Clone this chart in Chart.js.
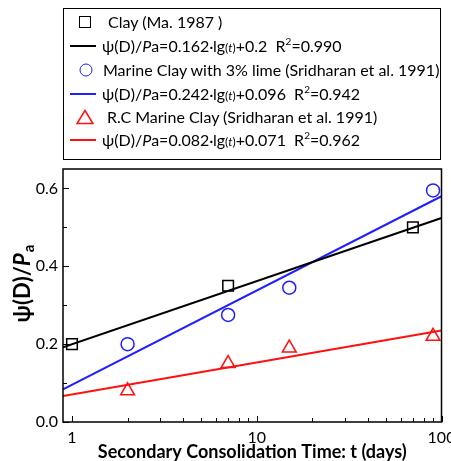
<!DOCTYPE html>
<html>
<head>
<meta charset="utf-8">
<script src="https://cdn.jsdelivr.net/npm/chart.js@4"></script>
<style>
  html, body { margin: 0; padding: 0; background: #fff; }
  #wrap { position: relative; width: 451px; height: 461px; }
  #legend {
    position: absolute; left: 63px; top: 8px; width: 376px; height: 150px;
    border: 1.5px solid #000; font-family: Lato, "Liberation Sans", sans-serif;
    font-size: 16px; color: #000;
  }
  .row { position: absolute; left: 0; height: 20px; line-height: 20px; white-space: nowrap; }
  .sym { position: absolute; top: 50%; transform: translate(-50%, -50%); }
  .txt { position: absolute; top: 0; }
  .ln { position: absolute; top: 9px; height: 2px; width: 26px; left: 6px; }
  .small { font-size: 12px; }
  sup { font-size: 10px; vertical-align: 7px; line-height: 0; }
</style>
</head>
<body>
<div id="wrap">
  <canvas id="myChart" width="451" height="461"></canvas>
  <div id="legend"></div>
</div>
<script>
// data
const clayT = [1, 7, 70];
const clayY = [0.2, 0.35, 0.5];
const limeT = [2, 7, 15, 90];
const limeY = [0.2, 0.275, 0.345, 0.595];
const rcT = [2, 7, 15, 90];
const rcY = [0.08, 0.15, 0.19, 0.22];

// fitted lines, end points across the axis
const fitT = [0.894, 100];
const clayFit = [0.192, 0.524];
const limeFit = [0.084, 0.58];
const rcFit = [0.067, 0.235];

const xTicks = [1, 2, 3, 4, 5, 6, 7, 8, 9, 10, 20, 30, 40, 50, 60, 70, 80, 90, 100];
const xLabels = [1, 10, 100];
const yTicks = [0, 0.1, 0.2, 0.3, 0.4, 0.5, 0.6];
const yLabels = ['0.0', '0.2', '0.4', '0.6'];

const BLUE = '#1f1fff';
const RED = '#ff1010';

const pts = (xs, ys) => xs.map((x, i) => ({ x: x, y: ys[i] }));

const frame = {
  id: 'frame',
  afterDraw(chart) {
    const { ctx, chartArea: a, scales: { x, y } } = chart;
    ctx.save();
    ctx.strokeStyle = '#000';
    ctx.lineWidth = 1;
    x.ticks.forEach(t => {
      const px = Math.round(x.getPixelForValue(t.value)) + 0.5;
      const len = xLabels.includes(t.value) ? 6 : 4;
      ctx.beginPath(); ctx.moveTo(px, a.bottom); ctx.lineTo(px, a.bottom - len); ctx.stroke();
    });
    y.ticks.forEach((t, i) => {
      const py = Math.round(y.getPixelForValue(t.value)) + 0.5;
      const len = i % 2 === 0 ? 6 : 4;
      ctx.beginPath(); ctx.moveTo(a.left, py); ctx.lineTo(a.left + len, py); ctx.stroke();
    });
    ctx.lineWidth = 1.5;
    ctx.strokeRect(a.left, a.top, a.right - a.left, a.bottom - a.top);

    // y title: ψ(D)/Pa with italic P and subscript a
    ctx.translate(23, 284);
    ctx.rotate(-Math.PI / 2);
    ctx.fillStyle = '#000';
    ctx.textBaseline = 'middle';
    const f1 = 'bold 22px Lato, sans-serif';
    const f2 = 'italic bold 22px Lato, sans-serif';
    const f3 = 'bold 15px Lato, sans-serif';
    ctx.font = f1; const w1 = ctx.measureText('ψ(D)/').width;
    ctx.font = f2; const w2 = ctx.measureText('P').width;
    ctx.font = f3; const w3 = ctx.measureText('a').width;
    let cx = -(w1 + w2 + w3) / 2;
    ctx.font = f1; ctx.fillText('ψ(D)/', cx, 0); cx += w1;
    ctx.font = f2; ctx.fillText('P', cx, 0); cx += w2 + 1;
    ctx.font = f3; ctx.fillText('a', cx, 6);
    ctx.restore();
  }
};

const ctx = document.getElementById('myChart').getContext('2d');
const myChart = new Chart(ctx, {
  type: 'scatter',
  data: {
    datasets: [
      { type: 'line', data: pts(fitT, clayFit), borderColor: '#000', borderWidth: 2, pointRadius: 0 },
      { type: 'line', data: pts(fitT, limeFit), borderColor: BLUE, borderWidth: 2, pointRadius: 0 },
      { type: 'line', data: pts(fitT, rcFit), borderColor: RED, borderWidth: 2, pointRadius: 0 },
      { data: pts(clayT, clayY), pointStyle: 'rect', pointRadius: 7.5, borderColor: '#000', backgroundColor: '#fff', borderWidth: 1.5 },
      { data: pts(limeT, limeY), pointStyle: 'circle', pointRadius: 6.5, borderColor: BLUE, backgroundColor: 'rgba(0,0,0,0)', borderWidth: 1.5 },
      { data: pts(rcT, rcY), pointStyle: 'triangle', pointRadius: 8, borderColor: RED, backgroundColor: 'rgba(0,0,0,0)', borderWidth: 1.5 }
    ]
  },
  options: {
    responsive: false,
    animation: false,
    layout: { padding: { top: 169, right: 9, left: 0, bottom: 0 } },
    plugins: { legend: { display: false }, tooltip: { enabled: false } },
    scales: {
      x: {
        type: 'logarithmic',
        min: fitT[0],
        max: fitT[1],
        grid: { display: false, drawTicks: false },
        border: { display: false },
        afterBuildTicks: s => { s.ticks = xTicks.map(v => ({ value: v })); },
        afterFit: s => { s.height = 39; s.paddingLeft = 0; s.paddingRight = 0; },
        ticks: {
          autoSkip: false, maxRotation: 0, padding: 6, color: '#000',
          font: { family: 'Lato', size: 16 },
          callback: v => xLabels.includes(v) ? String(v) : ''
        },
        title: {
          display: true, text: 'Secondary Consolidation Time: t (days)', color: '#000',
          font: { family: 'Lato', size: 18, weight: 'bold', lineHeight: 1 },
          padding: { top: 0, bottom: 0 }
        }
      },
      y: {
        min: 0,
        max: 0.65,
        grid: { display: false, drawTicks: false },
        border: { display: false },
        afterBuildTicks: s => { s.ticks = yTicks.map(v => ({ value: v })); },
        afterFit: s => { s.width = 63; s.paddingTop = 0; s.paddingBottom = 0; },
        ticks: {
          autoSkip: false, padding: 5, color: '#000',
          font: { family: 'Lato', size: 16 },
          callback: (v, i) => i % 2 === 0 ? yLabels[i / 2] : ''
        }
      }
    }
  },
  plugins: [frame]
});

// legend box
const rows = [
  { y: 13, sym: '<span class="sym" style="left:21px;width:10px;height:10px;border:1.5px solid #000"></span>', x: 44,
    text: 'Clay (Ma. 1987 )' },
  { y: 37, sym: '<span class="ln" style="background:#000"></span>', x: 38,
    text: 'ψ(D)/<i>P</i>a=0.162·lg<span class="small">(<i>t</i>)</span>+0.2&nbsp; R<sup>2</sup>=0.990' },
  { y: 61, sym: '<span class="sym" style="left:22px;width:11px;height:11px;border:1.5px solid ' + BLUE + ';border-radius:50%"></span>', x: 39,
    text: 'Marine Clay with 3% lime (Sridharan et al. 1991)' },
  { y: 85, sym: '<span class="ln" style="background:' + BLUE + '"></span>', x: 38,
    text: 'ψ(D)/<i>P</i>a=0.242·lg<span class="small">(<i>t</i>)</span>+0.096&nbsp; R<sup>2</sup>=0.942' },
  { y: 108, sym: '<svg class="sym" style="left:21px" width="18" height="16"><polygon points="9,1.5 17,14.5 1,14.5" fill="none" stroke="' + RED + '" stroke-width="1.5"/></svg>', x: 43,
    text: 'R.C Marine Clay (Sridharan et al. 1991)' },
  { y: 131, sym: '<span class="ln" style="background:' + RED + '"></span>', x: 38,
    text: 'ψ(D)/<i>P</i>a=0.082·lg<span class="small">(<i>t</i>)</span>+0.071&nbsp; R<sup>2</sup>=0.962' }
];
document.getElementById('legend').innerHTML = rows.map(r =>
  '<div class="row" style="top:' + (r.y - 10) + 'px;width:376px">' + r.sym +
  '<span class="txt" style="left:' + r.x + 'px">' + r.text + '</span></div>').join('');
</script>
</body>
</html>
